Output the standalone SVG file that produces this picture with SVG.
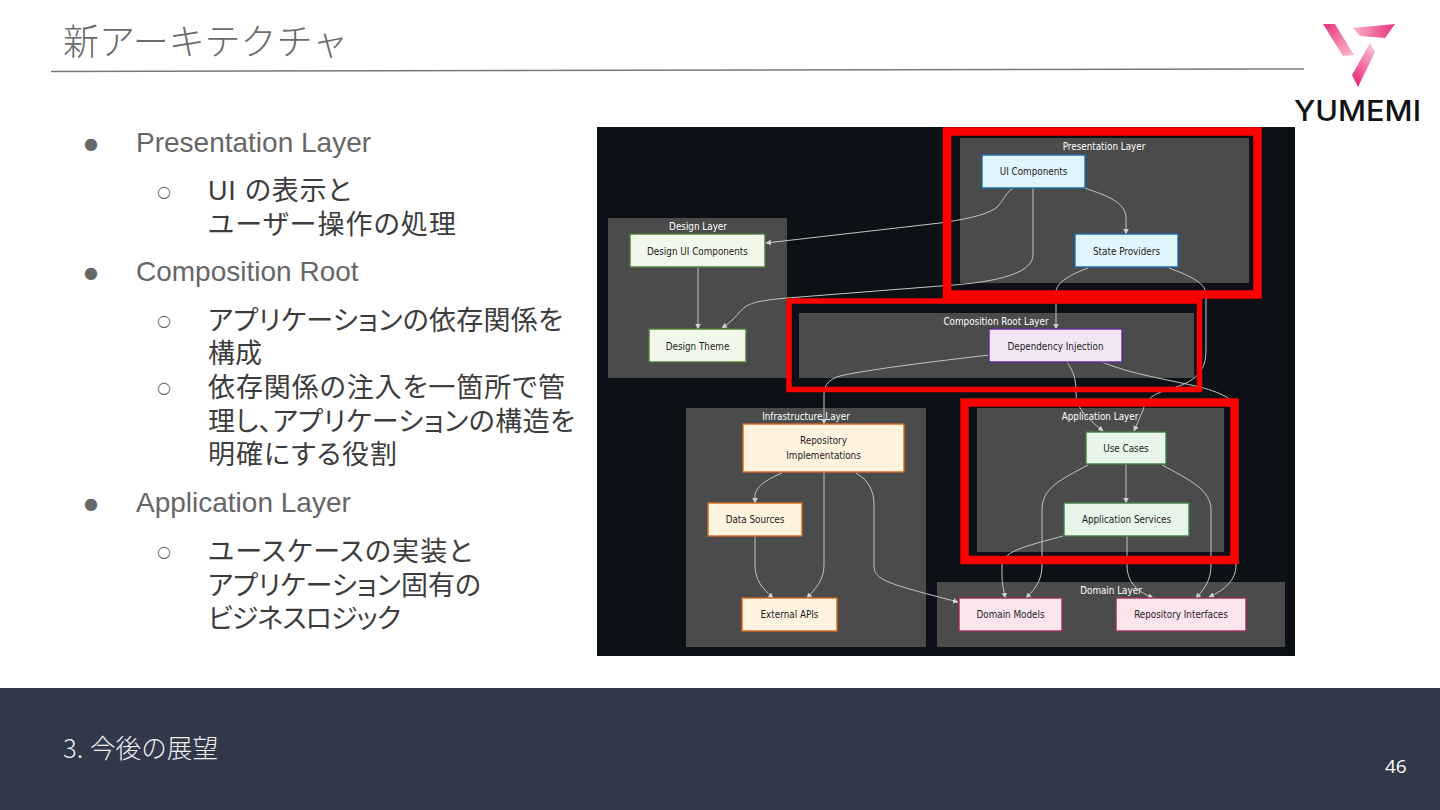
<svg xmlns="http://www.w3.org/2000/svg" width="1440" height="810" viewBox="0 0 1440 810">
<style>
.cjk{font-family:"Liberation Sans","Noto Sans CJK JP",sans-serif;font-size:27px;fill:#3c3c3c;font-feature-settings:"palt"}
.en{font-family:"Liberation Sans",Arial,sans-serif;font-size:28px;fill:#666}
.b{font-family:"DejaVu Sans",sans-serif;font-size:16px;fill:#666}
.layer{fill:#4a4b4a}
.lt{font-family:"DejaVu Sans",sans-serif;font-size:9.800px;fill:#fff;text-anchor:middle;font-stretch:condensed}
.nt{font-family:"DejaVu Sans",sans-serif;font-size:9.800px;fill:#1c1c1c;text-anchor:middle;font-stretch:condensed}
.n{stroke-width:1.400}
.blue{fill:#e1f5fe;stroke:#1a6ca8}
.green{fill:#f1f8e9;stroke:#4a7d38}
.purple{fill:#f3e5f5;stroke:#5c2a8f}
.orange{fill:#fff3e0;stroke:#d26a1e}
.mint{fill:#e8f5e9;stroke:#3f8046}
.pink{fill:#fce4ec;stroke:#963060}
.e{fill:none;stroke:#c4c4c4;stroke-width:1;marker-end:url(#arr)}
.red{fill:none;stroke:#fe0000}
</style>
<defs>
<marker id="arr" viewBox="0 0 10 10" refX="9" refY="5" markerWidth="5.500" markerHeight="5.500" orient="auto" markerUnits="userSpaceOnUse"><path d="M0 0L10 5L0 10z" fill="#d0d0d0"/></marker>
<linearGradient id="g1" x1="0" y1="0" x2="1" y2="1"><stop offset="0" stop-color="#e8327f"/><stop offset="1" stop-color="#fbc0d0"/></linearGradient>
<linearGradient id="g2" x1="0" y1="0" x2="1" y2="0"><stop offset="0" stop-color="#fab4c8"/><stop offset="1" stop-color="#e8327f"/></linearGradient>
<linearGradient id="g3" x1="0.7" y1="0" x2="0.3" y2="1"><stop offset="0" stop-color="#fbc0d0"/><stop offset="1" stop-color="#e8277c"/></linearGradient>
</defs>
<rect width="1440" height="810" fill="#fff"/>

<g id="header">
<text x="63" y="55" font-family="'Noto Sans CJK JP',sans-serif" font-weight="300" font-size="36" fill="#6a6a6a" textLength="285">新アーキテクチャ</text>
<path d="M51 71.500L1304 69" stroke="#777" stroke-width="1.500" fill="none"/>
</g>
<g id="logo">
<polygon points="1323,24 1335,24 1354,55 1343,56" fill="url(#g1)"/>
<polygon points="1353,28 1395,24 1385,38 1360,36" fill="url(#g2)"/>
<polygon points="1370,43 1375,52 1358,87 1352,75" fill="url(#g3)"/>
<text x="1294" y="120.500" font-family="Inter,sans-serif" font-weight="500" font-size="28" fill="#111" textLength="127" lengthAdjust="spacingAndGlyphs">YUMEMI</text>
</g>

<g id="bullets">
<text class="b" x="84" y="149">●</text><text class="en" x="136" y="152">Presentation Layer</text>
<text class="b" x="157" y="197">○</text><text class="cjk" x="208" y="200" textLength="143">UI の表示と</text>
<text class="cjk" x="208" y="234" textLength="248">ユーザー操作の処理</text>
<text class="b" x="84" y="278">●</text><text class="en" x="136" y="281">Composition Root</text>
<text class="b" x="157" y="326">○</text><text class="cjk" x="208" y="330" textLength="355">アプリケーションの依存関係を</text>
<text class="cjk" x="208" y="363" textLength="54">構成</text>
<text class="b" x="157" y="393">○</text><text class="cjk" x="208" y="397" textLength="357">依存関係の注入を一箇所で管</text>
<text class="cjk" x="208" y="431" textLength="367">理し、アプリケーションの構造を</text>
<text class="cjk" x="208" y="464" textLength="189">明確にする役割</text>
<text class="b" x="84" y="509">●</text><text class="en" x="136" y="512">Application Layer</text>
<text class="b" x="157" y="557">○</text><text class="cjk" x="208" y="561" textLength="264">ユースケースの実装と</text>
<text class="cjk" x="208" y="595" textLength="273">アプリケーション固有の</text>
<text class="cjk" x="208" y="628" textLength="193">ビジネスロジック</text>
</g>

<rect id="canvas" x="597" y="127" width="698" height="529" fill="#0d1117"/>

<g id="layers">
<g id="layer-presentation"><rect class="layer" x="960" y="138" width="289" height="145"/><text class="lt" x="1104" y="149.500">Presentation Layer</text></g>
<g id="layer-design"><rect class="layer" x="608" y="218" width="179" height="160"/><text class="lt" x="698" y="229.500">Design Layer</text></g>
<g id="layer-composition"><rect class="layer" x="799" y="313" width="395" height="65"/><text class="lt" x="996" y="324.500">Composition Root Layer</text></g>
<g id="layer-infrastructure"><rect class="layer" x="686" y="408" width="240" height="239"/><text class="lt" x="806" y="419.500">Infrastructure Layer</text></g>
<g id="layer-application"><rect class="layer" x="977" y="408" width="247" height="144"/><text class="lt" x="1100" y="419.500">Application Layer</text></g>
<g id="layer-domain"><rect class="layer" x="937" y="582" width="348" height="65"/><text class="lt" x="1111" y="593.500">Domain Layer</text></g>
</g>

<g id="connectors">
<path class="e" d="M1013 188C1004 195 1002 203 996 208C985 216 960 220 940 223L766 243"/>
<path class="e" d="M1033 188V255C1033 275 990 283 940 286L787 298C765 300 752 302 745 307C738 312 737 318 722 328"/>
<path class="e" d="M1085 188C1100 194 1126 200 1126 218V234"/>
<path class="e" d="M1088 268C1072 274 1056 282 1056 292V329"/>
<path class="e" d="M1169 268C1185 274 1206 282 1206 294V350C1206 372 1195 382 1170 389C1150 395 1146 400 1143 410L1134 431"/>
<path class="e" d="M1067 362C1074 372 1076 380 1076 392C1076 408 1085 416 1103 431"/>
<path class="e" d="M1102 362C1130 374 1170 380 1200 387C1225 394 1236 400 1236 412V565C1236 580 1225 590 1209 597"/>
<path class="e" d="M989 355C930 362 880 368 844 375C830 378 824 384 824 394V424"/>
<path class="e" d="M698 267V329"/>
<path class="e" d="M782 473C765 480 755 488 755 496V503"/>
<path class="e" d="M824 472V565C824 580 816 588 807 598"/>
<path class="e" d="M856 473C868 480 874 490 874 505V565C874 580 885 583 958 602"/>
<path class="e" d="M755 536V565C755 580 762 588 773 598"/>
<path class="e" d="M1126 464V503"/>
<path class="e" d="M1088 465C1060 480 1042 488 1042 510V565C1042 580 1036 588 1026 598"/>
<path class="e" d="M1162 465C1190 480 1211 490 1211 510V565C1211 580 1205 588 1196 598"/>
<path class="e" d="M1063 536C1035 544 1002 550 1002 565V575C1002 585 1004 590 1005 598"/>
<path class="e" d="M1127 536V565C1127 585 1140 592 1153 598"/>
</g>

<g id="ui-components"><rect class="n blue" x="982" y="155" width="103" height="33"/><text class="nt" x="1033.500" y="174.500">UI Components</text></g>
<g id="state-providers"><rect class="n blue" x="1075" y="234" width="103" height="33"/><text class="nt" x="1126.500" y="254.500">State Providers</text></g>
<g id="design-ui-components"><rect class="n green" x="630" y="234" width="135" height="33"/><text class="nt" x="697.500" y="254.500">Design UI Components</text></g>
<g id="design-theme"><rect class="n green" x="649" y="329" width="97" height="33"/><text class="nt" x="697.500" y="349.500">Design Theme</text></g>
<g id="dependency-injection"><rect class="n purple" x="989" y="329" width="133" height="33"/><text class="nt" x="1055.500" y="349.500">Dependency Injection</text></g>
<g id="repository-implementations"><rect class="n orange" x="743" y="424" width="161" height="48"/><text class="nt" x="823.500" y="444">Repository</text><text class="nt" x="823.500" y="459">Implementations</text></g>
<g id="data-sources"><rect class="n orange" x="708" y="503" width="94" height="33"/><text class="nt" x="755" y="523">Data Sources</text></g>
<g id="external-apis"><rect class="n orange" x="742" y="598" width="95" height="33"/><text class="nt" x="789.500" y="618">External APIs</text></g>
<g id="use-cases"><rect class="n mint" x="1086" y="432" width="80" height="32"/><text class="nt" x="1126" y="451.500">Use Cases</text></g>
<g id="application-services"><rect class="n mint" x="1064" y="503" width="125" height="33"/><text class="nt" x="1126.500" y="523">Application Services</text></g>
<g id="domain-models"><rect class="n pink" x="959" y="598" width="103" height="33"/><text class="nt" x="1010.500" y="618">Domain Models</text></g>
<g id="repository-interfaces"><rect class="n pink" x="1116" y="598" width="130" height="33"/><text class="nt" x="1181" y="618">Repository Interfaces</text></g>

<g id="highlights">
<rect class="red" x="947" y="131.500" width="310.500" height="163" stroke-width="8.500"/>
<rect class="red" x="789" y="301" width="410.500" height="88.500" stroke-width="5.500"/>
<rect class="red" x="964.500" y="402.500" width="270" height="157.500" stroke-width="8.500"/>
</g>

<g id="footer">
<rect x="0" y="688" width="1440" height="122" fill="#303849"/>
<text y="758" font-family="'Noto Sans CJK JP',sans-serif" font-weight="300" font-size="25.600" fill="#eef0f2"><tspan x="63">3.</tspan><tspan x="90">今後の展望</tspan></text>
<text x="1385" y="773" font-family="'Open Sans',sans-serif" font-size="19" fill="#fff">46</text>
</g>
</svg>
